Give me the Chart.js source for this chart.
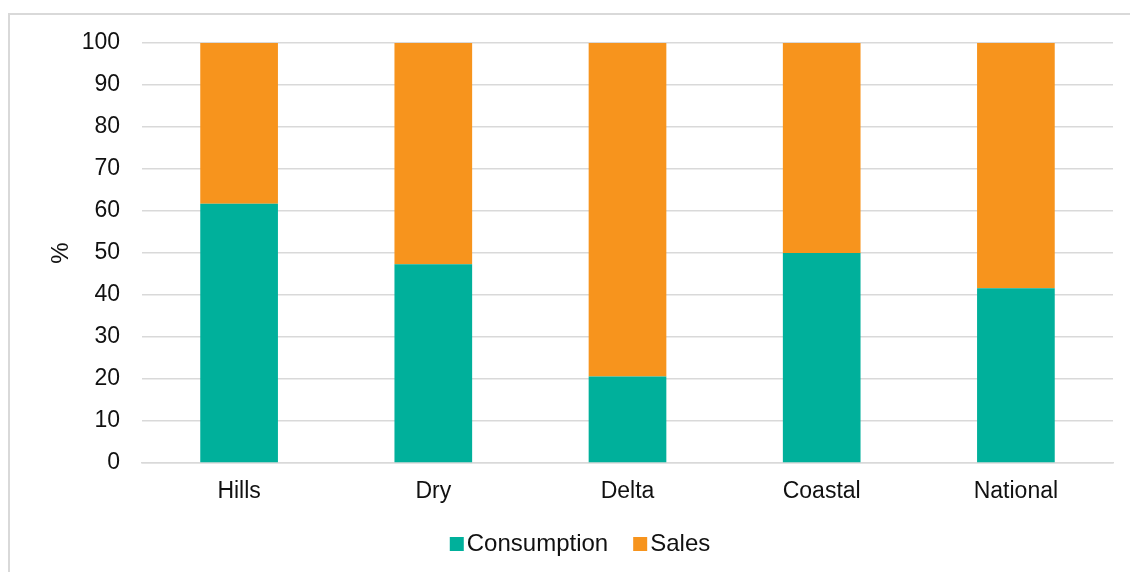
<!DOCTYPE html>
<html>
<head>
<meta charset="utf-8">
<script src="https://cdn.jsdelivr.net/npm/chart.js@4"></script>
<style>
  html, body { margin: 0; padding: 0; background: #ffffff; }
  #wrap { position: relative; width: 1130px; height: 572px; }
</style>
</head>
<body>
<div id="wrap"><canvas id="chart" width="1130" height="572"></canvas></div>
<script>
// Share of output used for own consumption vs. sold, by zone (%)
const categories = ['Hills', 'Dry', 'Delta', 'Coastal', 'National'];
const consumption = [61.7, 47.3, 20.6, 50.0, 41.6];
const sales = [38.3, 52.7, 79.4, 50.0, 58.4];
const yTicks = [0, 10, 20, 30, 40, 50, 60, 70, 80, 90, 100];

const FONT = "'Liberation Sans', Arial, sans-serif";
const GRID = '#d9d9d9';
const TEXT = '#111111';

// light frame around the whole figure
const framePlugin = {
  id: 'frame',
  beforeDraw(chart) {
    const ctx = chart.ctx;
    ctx.save();
    ctx.fillStyle = '#ffffff';
    ctx.fillRect(0, 0, chart.width, chart.height);
    ctx.strokeStyle = GRID;
    ctx.lineWidth = 2;
    ctx.beginPath();
    ctx.moveTo(9, chart.height + 5);
    ctx.lineTo(9, 14);
    ctx.lineTo(chart.width + 5, 14);
    ctx.stroke();
    ctx.restore();
  }
};

// compact legend: small square right next to its label, centred under the figure
const legendPlugin = {
  id: 'compactLegend',
  afterDraw(chart) {
    const ctx = chart.ctx;
    const box = 14, gap = 3, spacing = 25, size = 24;
    const cy = chart.chartArea.bottom + 81;
    const cx = chart.width / 2 + 15;
    ctx.save();
    ctx.font = size + 'px ' + FONT;
    ctx.textBaseline = 'middle';
    const items = chart.data.datasets.map(ds => ({
      label: ds.label, color: ds.backgroundColor, w: ctx.measureText(ds.label).width
    }));
    const total = items.reduce((s, it) => s + box + gap + it.w, 0) + spacing * (items.length - 1);
    let x = cx - total / 2;
    items.forEach(it => {
      ctx.fillStyle = it.color;
      ctx.fillRect(x, cy - box / 2, box, box);
      ctx.fillStyle = TEXT;
      ctx.fillText(it.label, x + box + gap, cy);
      x += box + gap + it.w + spacing;
    });
    ctx.restore();
  }
};

new Chart(document.getElementById('chart'), {
  type: 'bar',
  data: {
    labels: categories,
    datasets: [
      { label: 'Consumption', data: consumption, backgroundColor: '#00b09b', borderWidth: 0 },
      { label: 'Sales', data: sales, backgroundColor: '#f7941d', borderWidth: 0 }
    ]
  },
  options: {
    responsive: false,
    animation: false,
    devicePixelRatio: 1,
    layout: { padding: { top: 43, right: 17, bottom: 63, left: 0 } },
    datasets: { bar: { barPercentage: 0.4, categoryPercentage: 1.0 } },
    plugins: {
      tooltip: { enabled: false },
      legend: { display: false }
    },
    scales: {
      x: {
        stacked: true,
        grid: { display: false, drawTicks: false },
        border: { display: true, color: GRID, width: 1.5 },
        ticks: { color: TEXT, font: { family: FONT, size: 23 }, padding: 15 },
        afterFit(scale) { scale.height = 46; }
      },
      y: {
        stacked: true,
        min: 0,
        max: 100,
        afterBuildTicks(scale) { scale.ticks = yTicks.map(v => ({ value: v })); },
        grid: { color: GRID, lineWidth: 1.5, drawTicks: false },
        border: { display: false },
        ticks: { color: TEXT, font: { family: FONT, size: 23 }, padding: 22 },
        title: {
          display: true,
          text: '%',
          color: TEXT,
          font: { family: FONT, size: 24 },
          padding: { top: 47, bottom: 0 }
        },
        afterFit(scale) { scale.width = 142; }
      }
    }
  },
  plugins: [framePlugin, legendPlugin]
});
</script>
</body>
</html>
